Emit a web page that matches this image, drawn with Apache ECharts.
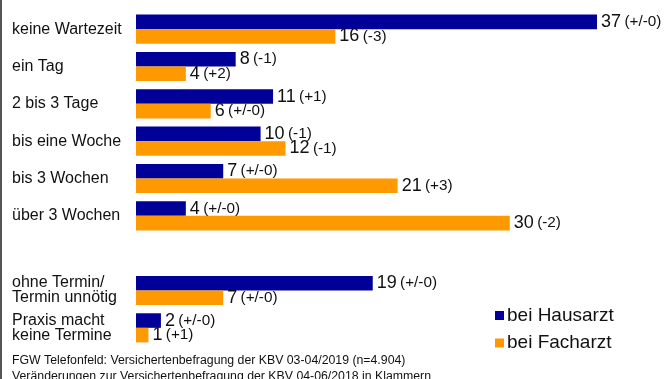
<!DOCTYPE html>
<html>
<head>
<meta charset="utf-8">
<script src="https://cdn.jsdelivr.net/npm/echarts@6/dist/echarts.min.js"></script>
<style>
  html, body { margin: 0; padding: 0; background: #fff; }
  #chart { width: 670px; height: 379px; }
</style>
</head>
<body>
<div id="chart"></div>
<script>
// Wartezeit auf einen Termin, in Prozent
const categories = ['keine Wartezeit', 'ein Tag', '2 bis 3 Tage', 'bis eine Woche', 'bis 3 Wochen', 'über 3 Wochen', '', 'ohne Termin/\nTermin unnötig', 'Praxis macht\nkeine Termine'];
const hausarzt = [37, 8, 11, 10, 7, 4, null, 19, 2];
const hausarztDiff = ['(+/-0)', '(-1)', '(+1)', '(-1)', '(+/-0)', '(+/-0)', '', '(+/-0)', '(+/-0)'];
const facharzt = [16, 4, 6, 12, 21, 30, null, 7, 1];
const facharztDiff = ['(-3)', '(+2)', '(+/-0)', '(-1)', '(+3)', '(-2)', '', '(+/-0)', '(+1)'];
const seriesNames = ['bei Hausarzt', 'bei Facharzt'];
const footnotes = [
  'FGW Telefonfeld: Versichertenbefragung der KBV 03-04/2019 (n=4.904)',
  'Veränderungen zur Versichertenbefragung der KBV 04-06/2018 in Klammern'
];

const FONT = '"Liberation Sans", Arial, sans-serif';

function valueLabel(diffs) {
  return {
    show: true,
    position: 'right',
    distance: 4,
    formatter: p => p.value == null ? '' : '{n|' + p.value + '} {c|' + diffs[p.dataIndex] + '}',
    rich: {
      n: { fontSize: 18, color: '#111', fontFamily: FONT },
      c: { fontSize: 15.3, color: '#111', fontFamily: FONT }
    }
  };
}

const chart = echarts.init(document.getElementById('chart'), null, { renderer: 'canvas' });
chart.setOption({
  animation: false,
  textStyle: { fontFamily: FONT },
  grid: { left: 136, top: 10.5, width: 498.4, height: 336 },
  xAxis: {
    type: 'value', min: 0, max: 40,
    show: false
  },
  yAxis: {
    type: 'category',
    inverse: true,
    data: categories,
    axisLine: { show: false },
    axisTick: { show: false },
    axisLabel: {
      align: 'left',
      margin: 124,
      fontSize: 16,
      lineHeight: 15,
      color: '#111',
      fontFamily: FONT
    }
  },
  legend: {
    orient: 'vertical',
    left: 490,
    top: 301,
    itemWidth: 9,
    itemHeight: 9,
    itemGap: 8.5,
    icon: 'rect',
    textStyle: { fontSize: 19, color: '#111', fontFamily: FONT, padding: [0, 0, 0, -2] },
    data: seriesNames
  },
  series: [
    {
      name: seriesNames[0], type: 'bar', data: hausarzt,
      itemStyle: { color: '#000099' },
      barGap: '0%', barCategoryGap: '22%',
      label: valueLabel(hausarztDiff)
    },
    {
      name: seriesNames[1], type: 'bar', data: facharzt,
      itemStyle: { color: '#FF9900' },
      barGap: '0%', barCategoryGap: '22%',
      label: valueLabel(facharztDiff)
    }
  ],
  graphic: [
    { type: 'line', shape: { x1: 1, y1: 0, x2: 1, y2: 379 }, style: { stroke: '#555', lineWidth: 2 } },
    { type: 'text', left: 12, top: 354.5, style: { text: footnotes[0], font: '12.3px ' + FONT, fill: '#111' } },
    { type: 'text', left: 12, top: 371, style: { text: footnotes[1], font: '12.3px ' + FONT, fill: '#111' } }
  ]
});
</script>
</body>
</html>
